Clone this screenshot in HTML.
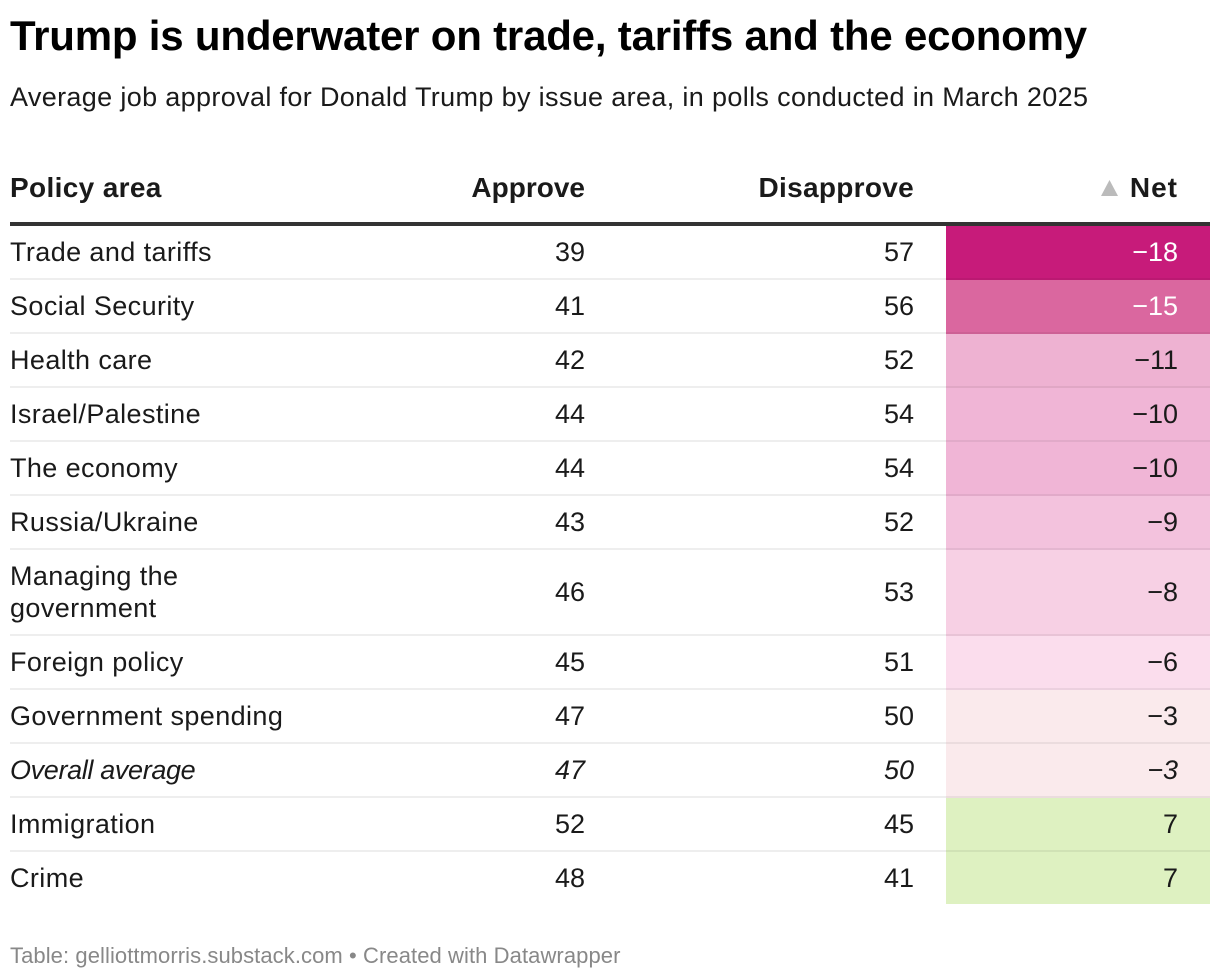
<!DOCTYPE html>
<html lang="en">
<head>
<meta charset="utf-8">
<title>Trump is underwater on trade, tariffs and the economy</title>
<style>
html,body{margin:0;padding:0;background:#fff;}
body{width:1220px;height:980px;position:relative;overflow:hidden;font-family:"Liberation Sans",sans-serif;color:#1a1a1a;}
.abs{position:absolute;white-space:nowrap;}
#title{left:10px;top:10px;font-size:42px;line-height:52px;font-weight:700;color:#000;letter-spacing:-.2px;}
#subtitle{left:10px;top:80px;font-size:27px;line-height:34px;color:#1a1a1a;letter-spacing:.35px;}
.hd{top:170px;font-size:28px;line-height:36px;font-weight:700;color:#1a1a1a;}
#rule{left:10px;top:222px;width:1200px;height:4px;background:#333;}
.row{position:absolute;left:10px;width:1200px;box-sizing:border-box;}
.cell{position:absolute;top:0;bottom:0;display:flex;align-items:center;font-size:27px;line-height:32px;color:#1a1a1a;box-sizing:border-box;}
.label{left:0;width:290px;letter-spacing:.4px;}
.num{justify-content:flex-end;}
.approve{left:400px;width:175px;}
.disapprove{left:730px;width:174px;}
.net{left:936px;width:264px;padding-right:32px;}
.line{position:absolute;left:0;right:0;bottom:0;height:2px;background:#eee;}
.netline{position:absolute;left:936px;right:0;bottom:0;height:2px;background:rgba(0,0,0,.06);}
#footer{left:10px;top:942px;font-size:22px;line-height:28px;color:#888;letter-spacing:.08px;}
</style>
</head>
<body>
<div class="abs" id="title">Trump is underwater on trade, tariffs and the economy</div>
<div class="abs" id="subtitle">Average job approval for Donald Trump by issue area, in polls conducted in March 2025</div>
<div class="abs hd" style="left:10px;letter-spacing:.35px">Policy area</div>
<div class="abs hd" style="right:635px">Approve</div>
<div class="abs hd" style="right:306px;letter-spacing:.3px">Disapprove</div>
<div class="abs hd" style="right:42px;letter-spacing:1px">Net</div>
<svg class="abs" style="left:1101px;top:180px" width="18" height="16"><polygon points="8.5,0 17,16 0,16" fill="#bbb"/></svg>
<div class="abs" id="rule"></div>
<div id="rows"></div>
<div class="abs" id="footer">Table: gelliottmorris.substack.com • Created with Datawrapper</div>
<script>
const policyAreas = ['Trade and tariffs','Social Security','Health care','Israel/Palestine','The economy','Russia/Ukraine','Managing the government','Foreign policy','Government spending','Overall average','Immigration','Crime'];
const approveValues = [39,41,42,44,44,43,46,45,47,47,52,48];
const disapproveValues = [57,56,52,54,54,52,53,51,50,50,45,41];
const netValues = [-18,-15,-11,-10,-10,-9,-8,-6,-3,-3,7,7];
const italicAreas = ['Overall average'];
const colorStops = [-18,-15,-11,-10,-9,-8,-6,-3,7];
const colorValues = ['#c71b7a','#da679f','#eeb2d2','#f0b5d6','#f3c2dd','#f7d0e4','#fbdded','#faeaec','#def1c1'];

function hexToRgb(h){return [1,3,5].map(function(i){return parseInt(h.substr(i,2),16);});}
function netColor(v){
  if(v<=colorStops[0])return colorValues[0];
  for(var i=1;i<colorStops.length;i++){
    if(v<=colorStops[i]){
      var t=(v-colorStops[i-1])/(colorStops[i]-colorStops[i-1]);
      var a=hexToRgb(colorValues[i-1]),b=hexToRgb(colorValues[i]);
      return 'rgb('+a.map(function(c,k){return Math.round(c+(b[k]-c)*t);}).join(',')+')';
    }
  }
  return colorValues[colorValues.length-1];
}
function fmtNet(v){return v<0?'\u2212'+Math.abs(v):String(v);}
function slug(s){return s.toLowerCase().replace(/[^a-z]+/g,'-');}

var container=document.getElementById('rows');
var y=226;
policyAreas.forEach(function(area,i){
  var isLast=i===policyAreas.length-1;
  var tall=area.length>22;
  var h=(tall?86:54)-(isLast?2:0);
  var key=slug(area);
  var row=document.createElement('div');
  row.className='row';
  row.style.top=y+'px';
  row.style.height=h+'px';
  
  
  var pad=isLast?0:2;

  var netCell=document.createElement('div');
  netCell.className='cell num net';
  netCell.style.background=netColor(netValues[i]);
  netCell.style.color=netValues[i]<=-15?'#fff':'#1a1a1a';
  netCell.style.paddingBottom=pad+'px';
  netCell.textContent=fmtNet(netValues[i]);
  
  
  row.appendChild(netCell);

  var italic=italicAreas.indexOf(area)>=0;
  var label=document.createElement('div');
  label.className='cell label';
  label.style.paddingBottom=pad+'px';
  label.style.fontStyle=italic?'italic':'normal';
  if(italic){label.style.letterSpacing='-.35px';}
  label.textContent=area;
  
  
  row.appendChild(label);

  var ap=document.createElement('div');
  ap.className='cell num approve';
  ap.style.paddingBottom=pad+'px';
  ap.style.fontStyle=italic?'italic':'normal';
  ap.textContent=approveValues[i];
  
  
  row.appendChild(ap);

  var dis=document.createElement('div');
  dis.className='cell num disapprove';
  dis.style.paddingBottom=pad+'px';
  dis.style.fontStyle=italic?'italic':'normal';
  dis.textContent=disapproveValues[i];
  
  
  row.appendChild(dis);

  if(italic){netCell.style.fontStyle='italic';}

  if(!isLast){
    var line=document.createElement('div');
    line.className='line';
    
    
    row.insertBefore(line,netCell);
    var nl=document.createElement('div');
    nl.className='netline';
    
    
    row.appendChild(nl);
  }
  container.appendChild(row);
  y+=h;
});
</script>
</body>
</html>
